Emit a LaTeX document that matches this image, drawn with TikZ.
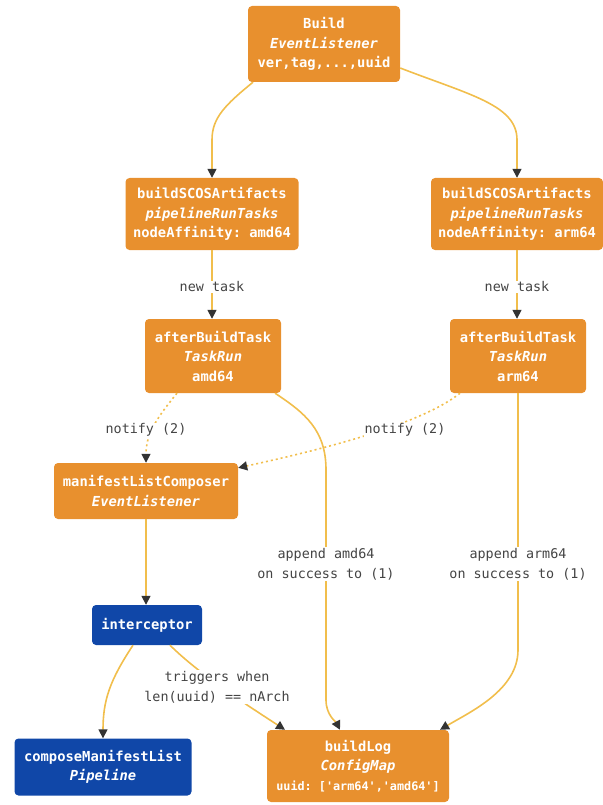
\documentclass[tikz,border=0pt]{standalone}
\usepackage{fontspec}
\setmonofont{DejaVu Sans Mono}
\usetikzlibrary{arrows.meta,calc}
\definecolor{nodeorange}{HTML}{E8902E}
\definecolor{nodeblue}{HTML}{1047A8}
\definecolor{edgeyellow}{HTML}{F1BE4C}
\definecolor{tipgray}{HTML}{333333}
\definecolor{labelgray}{HTML}{444444}
\begin{document}
\begin{tikzpicture}[x=1pt,y=1pt,
  box/.style={rounded corners=4pt, fill=nodeorange, text=white,
    font=\ttfamily\bfseries\fontsize{13.8}{19.5}\selectfont, align=center, inner sep=0pt},
  bluebox/.style={box, fill=nodeblue},
  edge/.style={draw=edgeyellow, line width=1.6pt,
    -{Triangle[length=9pt,width=9pt,color=tipgray]}},
  dotedge/.style={edge, dash pattern=on 2pt off 3pt},
  lbl/.style={fill=white, text=labelgray,
    font=\ttfamily\fontsize{13.4}{20}\selectfont, align=center, inner sep=1pt},
]
\useasboundingbox (0,0) rectangle (602,-805);

% nodes
\node[box, minimum width=152, minimum height=76] (build) at (324,-44)
  {Build\\\textit{EventListener}\\ver,tag,...,uuid};
\node[box, minimum width=173, minimum height=72] (scosL) at (212,-214)
  {buildSCOSArtifacts\\\textit{pipelineRunTasks}\\nodeAffinity: amd64};
\node[box, minimum width=172, minimum height=72] (scosR) at (517,-214)
  {buildSCOSArtifacts\\\textit{pipelineRunTasks}\\nodeAffinity: arm64};
\node[box, minimum width=136, minimum height=74] (abL) at (213,-356)
  {afterBuildTask\\\textit{TaskRun}\\amd64};
\node[box, minimum width=136, minimum height=74] (abR) at (518,-356)
  {afterBuildTask\\\textit{TaskRun}\\arm64};
\node[box, minimum width=184, minimum height=56] (mlc) at (146,-491)
  {manifestListComposer\\\textit{EventListener}};
\node[bluebox, minimum width=110, minimum height=40] (icp) at (147,-625)
  {interceptor};
\node[bluebox, minimum width=177, minimum height=57] (cml) at (103,-767)
  {composeManifestList\\\textit{Pipeline}};
\node[box, minimum width=182, minimum height=72] (blog) at (358,-766)
  {buildLog\\\textit{ConfigMap}\\{\fontsize{11.8}{16}\selectfont uuid: ['arm64','amd64']}};

% connectors
\draw[edge] ([xshift=-71]build.south) .. controls (225,-105) and (212,-118) ..
  ($(scosL.north)+(0,38)$) -- (scosL.north);
\draw[edge] ([yshift=-24]build.east) .. controls (470,-95) and (517,-105) ..
  ($(scosR.north)+(0,38)$) -- (scosR.north);
\draw[edge] (scosL.south) -- (scosL.south |- abL.north);
\draw[edge] (scosR.south) -- (scosR.south |- abR.north);
\draw[dotedge] ([xshift=-36]abL.south) .. controls (155,-420) and (146,-435) .. (mlc.north);
\draw[dotedge] ([xshift=-58]abR.south) .. controls (420,-425) and (320,-450) ..
  ([yshift=-5]mlc.north east);
\draw[edge] ([xshift=62]abL.south) .. controls (305,-413) and (326,-430) .. (326,-470)
  -- (326,-700) .. controls (326,-715) and (336,-722) .. ([xshift=-18]blog.north);
\draw[edge] (abR.south) -- (518,-650) .. controls (518,-690) and (470,-712) ..
  ([xshift=82]blog.north);
\draw[edge] (mlc.south) -- (mlc.south |- icp.north);
\draw[edge] ([xshift=-14]icp.south) .. controls (110,-680) and (103,-700) .. (cml.north);
\draw[edge] ([xshift=23]icp.south) .. controls (200,-675) and (250,-707) ..
  ([xshift=-73]blog.north);

% connector labels
\node[lbl] (newL) at (212,-287) {new task};
\node[lbl] (newR) at (517,-287) {new task};
\node[lbl] (notL) at (146,-430) {notify (2)};
\node[lbl] (notR) at (405,-430) {notify (2)};
\node[lbl] (appL) at (326,-564) {append amd64\\on success to (1)};
\node[lbl] (appR) at (518,-564) {append arm64\\on success to (1)};
\node[lbl] (trig) at (217,-687) {triggers when\\len(uuid) == nArch};
\end{tikzpicture}
\end{document}
